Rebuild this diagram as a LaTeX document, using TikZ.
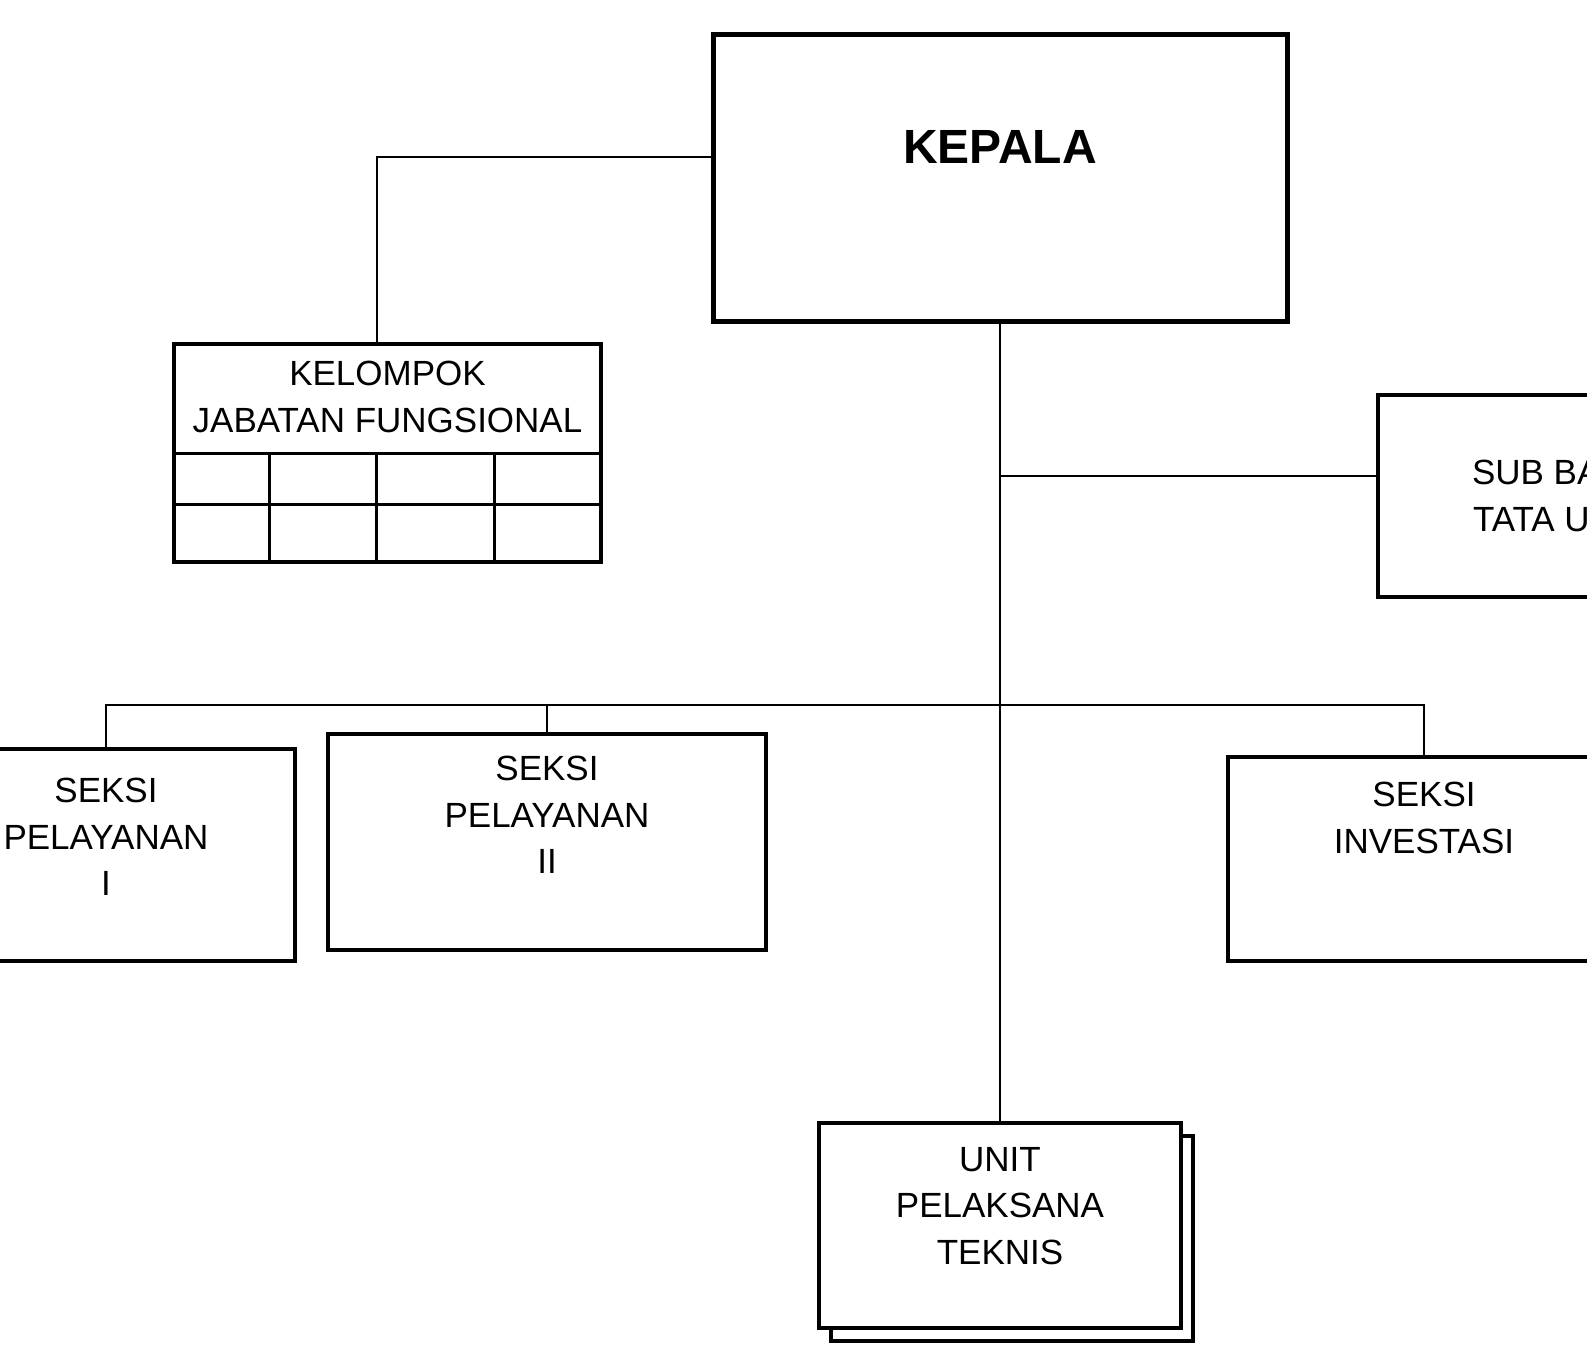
\documentclass[tikz,border=0pt]{standalone}
\usepackage{fontspec}
\setmainfont{Liberation Sans}
\usetikzlibrary{positioning, calc}

\begin{document}
\begin{tikzpicture}[
  x=1pt, y=-1pt,
  unit/.style={draw=black, line width=3.5pt, fill=white, inner sep=0pt},
  headbox/.style={unit, line width=5pt},
  lbl/.style={align=center, inner sep=0pt,
              font=\fontsize{35}{46.5}\selectfont},
  link/.style={draw=black, line width=2pt},
  grid/.style={draw=black, line width=3pt}
]
\useasboundingbox (0,0) rectangle (1587,1348);
\clip (0,0) rectangle (1587,1348);

% boxes
\node[headbox, minimum width=574pt, minimum height=287pt] (kepala) at (1000,178) {};
\node[unit, minimum width=427pt, minimum height=218pt] (kjf) at (387.5,453) {};
\node[unit, minimum width=402pt, minimum height=202pt] (subbag) at (1579,496) {};
\node[unit, minimum width=378pt, minimum height=212pt] (s1) at (106,855) {};
\node[unit, minimum width=438pt, minimum height=216pt] (s2) at (547,842) {};
\node[unit, minimum width=392pt, minimum height=204pt] (s3) at (1424,859) {};
\node[unit, minimum width=362pt, minimum height=205pt] (uptback) at (1012,1238.5) {};
\node[unit, minimum width=362pt, minimum height=205pt] (upt) at (1000,1225.5) {};

% texts
\node[font=\fontsize{48}{56}\selectfont\bfseries] (kepalatxt)
  at ([yshift=31pt]kepala.center) {KEPALA};
\node[lbl] (kjftxt) at ([yshift=56pt]kjf.center) {KELOMPOK\\JABATAN FUNGSIONAL};
\node[lbl] (subbagtxt) at (subbag.center) {SUB BAGIAN\\TATA USAHA};
\node[lbl] (s1txt) at ([yshift=18pt]s1.center) {SEKSI\\PELAYANAN\\I};
\node[lbl] (s2txt) at ([yshift=27pt]s2.center) {SEKSI\\PELAYANAN\\II};
\node[lbl] (s3txt) at ([yshift=41pt]s3.center) {SEKSI\\INVESTASI};
\node[lbl] (upttxt) at ([yshift=19.5pt]upt.center) {UNIT\\PELAKSANA\\TEKNIS};

% grid of the functional group
\draw[grid] (kjf.west) -- (kjf.east);
\draw[grid] ($(kjf.west)!0.468!(kjf.south west)$) -- ($(kjf.east)!0.468!(kjf.south east)$);
\foreach \f in {0.227,0.475,0.749}
  \draw[grid] ($(kjf.west)!\f!(kjf.east)$) -- ($(kjf.south west)!\f!(kjf.south east)$);

% connectors
\coordinate (bus) at (1000,705);
\coordinate (tub) at ([yshift=20pt]subbag.west);
\draw[link] ([yshift=21pt]kepala.west) -| ([xshift=-11pt]kjf.north);
\draw[link] (kepala.south) -- (upt.north);
\draw[link] (kepala.south |- tub) -- (tub);
\draw[link] (s1.north) -- (s1.north |- bus) -- (s3.north |- bus) -- (s3.north);
\draw[link] (s2.north |- bus) -- (s2.north);
\end{tikzpicture}
\end{document}
